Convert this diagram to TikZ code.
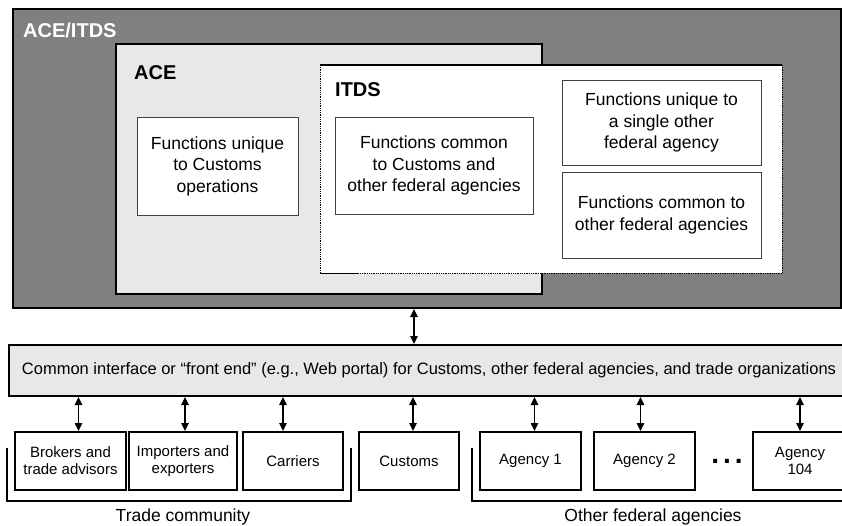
\documentclass[tikz,border=0pt]{standalone}
\usepackage{fontspec}
\setmainfont{Liberation Sans}
\usepackage{tikz}
\usetikzlibrary{arrows.meta}
\definecolor{outergray}{HTML}{808080}
\definecolor{panelgray}{HTML}{E8E8E8}
\definecolor{edgegray}{HTML}{404040}
\tikzset{
boxtitle/.style={anchor=base west, inner sep=0pt, font=\fontsize{20}{24}\selectfont\bfseries},
fnbox/.style={draw=edgegray, line width=0.8pt, fill=white, align=center, inner sep=0pt, font=\fontsize{17.5}{21.5}\selectfont},
partybox/.style={draw, line width=2pt, fill=white, align=center, inner sep=0pt, minimum height=58pt, font=\fontsize{15}{17}\selectfont},
link/.style={{Triangle[length=8pt,width=7.5pt]}-{Triangle[length=8pt,width=7.5pt]}, line width=1.2pt},
bracket/.style={line width=2pt},
grouplbl/.style={inner sep=0pt, font=\fontsize{17.5}{21}\selectfont}
}
\begin{document}
\begin{tikzpicture}[x=1pt, y=-1pt]
\useasboundingbox (0,0) rectangle (842,526);
\node[draw, line width=2pt, fill=outergray, anchor=north west, minimum width=828pt, minimum height=299pt, inner sep=0pt] (aceitds) at (12,8) {};
\node[boxtitle, text=white] (aceitdslbl) at (23,38) {ACE/ITDS};
\node[draw, line width=2pt, fill=panelgray, anchor=north west, minimum width=426pt, minimum height=250pt, inner sep=0pt] (ace) at (115,43) {};
\node[boxtitle] (acelbl) at (134,80) {ACE};
\node[fill=white, anchor=north west, minimum width=462pt, minimum height=208pt, inner sep=0pt] (itds) at (320,65) {};
\draw[line width=1.2pt] (itds.north west) -- (itds.north east);
\draw[densely dotted, line width=0.8pt] (itds.north west) -- (itds.south west) -- (itds.south east) -- (itds.north east);
\draw[line width=1.5pt] (itds.south west) -- ++(38,0);
\node[boxtitle] (itdslbl) at (335,97) {ITDS};
\node[fnbox, minimum width=161pt, minimum height=98pt] (fcust) at (217.5,166) {Functions unique\\to Customs\\operations};
\node[fnbox, minimum width=198pt, minimum height=97pt] (fcommon) at (434,165.5) {Functions common\\to Customs and\\other federal agencies};
\node[fnbox, minimum width=199pt, minimum height=85pt] (fsingle) at (661.5,122.5) {Functions unique to\\a single other\\federal agency};
\node[fnbox, minimum width=199pt, minimum height=86pt] (fother) at (661.5,215) {Functions common to\\other federal agencies};
\node[draw, line width=2pt, fill=panelgray, anchor=north west, minimum width=840pt, minimum height=51pt, inner sep=0pt, font=\fontsize{16.5}{20}\selectfont] (front) at (8,344) {Common interface or “front end” (e.g., Web portal) for Customs, other federal agencies, and trade organizations\hspace{4pt}};
\node[partybox, minimum width=111pt] (brokers) at (70.5,461) {Brokers and\\trade advisors};
\node[partybox, minimum width=108pt] (importers) at (183,461) {Importers and\\exporters};
\node[partybox, minimum width=100pt] (carriers) at (293,461) {Carriers};
\node[partybox, minimum width=100pt] (customs) at (409,461) {Customs};
\node[partybox, minimum width=101pt] (agency1) at (530.5,461) {Agency 1};
\node[partybox, minimum width=101pt] (agency2) at (644.5,461) {Agency 2};
\node[partybox, minimum width=94pt] (agency104) at (800,461) {Agency\\104};
\node[inner sep=0pt, font=\fontsize{28}{30}\selectfont\bfseries] (dots) at (727,461) {.\hspace{4pt}.\hspace{4pt}.};
\draw[link] ([xshift=5pt]customs.north |- aceitds.south) -- ([xshift=5pt]customs.north |- front.north);
\foreach \p/\s in {brokers/8, importers/2, carriers/-10, customs/4, agency1/4, agency2/-4, agency104/0}
\draw[link] ([xshift=\s pt]\p.north |- front.south) -- ([xshift=\s pt]\p.north);
\draw[bracket] (7,448) |- (351,501) -- (351,448);
\draw[bracket] (472,448) |- (850,501);
\node[grouplbl] (tradelbl) at (183,517) {Trade community};
\node[grouplbl] (agencylbl) at (653,517) {Other federal agencies};
\end{tikzpicture}
\end{document}
